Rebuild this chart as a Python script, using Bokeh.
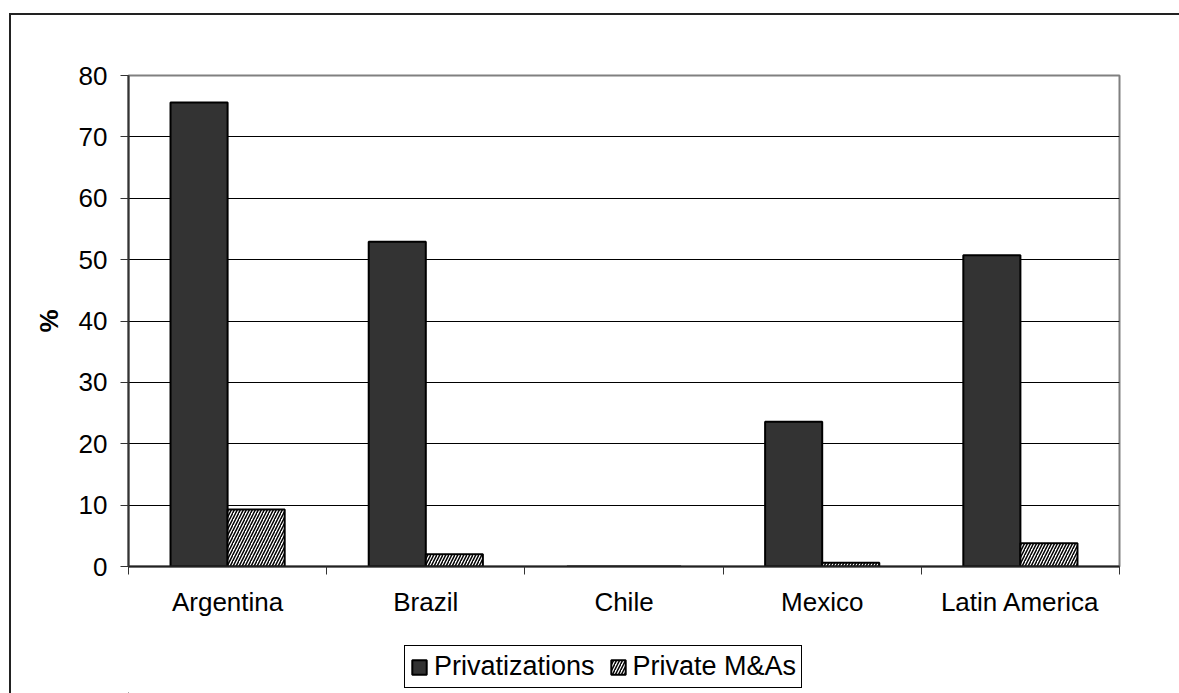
from bokeh.plotting import figure
from bokeh.models import (Range1d, LinearAxis, FixedTicker,
                          Legend, LegendItem, ColumnDataSource)
from bokeh.transform import dodge
from bokeh.layouts import column
from bokeh.embed import file_html
from bokeh.resources import INLINE

categories = ["Argentina", "Brazil", "Chile", "Mexico", "Latin America"]
privatizations = [75.6, 52.9, 0.0, 23.6, 50.7]
private_mas = [9.3, 2.0, 0.0, 0.6, 3.8]
y_ticks = [0, 10, 20, 30, 40, 50, 60, 70, 80]
series_labels = ["Privatizations", "Private M&As"]

FONT = "Liberation Sans"
FS = "26px"

PRIV_STYLE = dict(fill_color="#333333", line_color="black", line_width=2)
MAS_STYLE = dict(fill_color="white", line_color="black", line_width=2,
                 hatch_pattern="/", hatch_color="black", hatch_scale=6, hatch_weight=1.5)

n = len(categories)
centers = [i + 0.5 for i in range(n)]
src = ColumnDataSource(dict(x=centers, cat=categories, priv=privatizations, mas=private_mas))

p = figure(width=1168, height=625,
           x_range=Range1d(0, n),
           y_range=Range1d(0, 80),
           x_axis_location=None, y_axis_location="left",
           output_backend="svg", toolbar_location=None,
           min_border_left=117, min_border_right=60,
           min_border_top=60, min_border_bottom=74)

p.outline_line_color = "#808080"
p.outline_line_width = 2
p.xgrid.grid_line_color = None
p.ygrid.grid_line_color = "black"
p.ygrid.grid_line_width = 1
p.ygrid.ticker = FixedTicker(ticks=y_ticks)

yax = p.yaxis[0]
yax.ticker = FixedTicker(ticks=y_ticks)
yax.axis_line_color = "#333333"
yax.axis_line_width = 2
yax.major_tick_out = 8
yax.major_tick_in = 0
yax.major_tick_line_color = "#333333"
yax.minor_tick_line_color = None
yax.major_label_text_font = FONT
yax.major_label_text_font_size = FS
yax.major_label_text_color = "black"
yax.major_label_standoff = 13
yax.axis_label = "%"
yax.axis_label_text_font = FONT
yax.axis_label_text_font_size = FS
yax.axis_label_text_font_style = "bold"
yax.axis_label_text_color = "black"
yax.axis_label_standoff = 12

# boundary ticks axis (no labels)
bounds = list(range(n + 1))
bax = LinearAxis(ticker=FixedTicker(ticks=bounds),
                 major_label_overrides={b: "" for b in bounds})
bax.axis_line_color = "#222222"
bax.axis_line_width = 2
bax.major_tick_out = 8
bax.major_tick_in = 0
bax.major_tick_line_color = "#333333"
bax.minor_tick_line_color = None
bax.major_label_text_font_size = "1px"
bax.major_label_standoff = 0
p.add_layout(bax, "below")

# category labels axis
cax = LinearAxis(ticker=FixedTicker(ticks=centers),
                 major_label_overrides={c: lab for c, lab in zip(centers, categories)})
cax.axis_line_color = None
cax.major_tick_line_color = None
cax.minor_tick_line_color = None
cax.major_tick_out = 0
cax.major_tick_in = 0
cax.major_label_text_font = FONT
cax.major_label_text_font_size = FS
cax.major_label_text_color = "black"
cax.major_label_standoff = 12
p.add_layout(cax, "below")

p.vbar(x=dodge("x", -0.144), top="priv", width=0.288, source=src, **PRIV_STYLE)
p.vbar(x=dodge("x", 0.144), top="mas", width=0.288, source=src, **MAS_STYLE)

# legend strip (separate figure so the legend is not clipped by the main frame);
# its proxy bars sit far off the canvas and only feed the legend swatches
lf = figure(width=1168, height=53, x_range=Range1d(0, 1), y_range=Range1d(0, 1),
            x_axis_location=None, y_axis_location=None,
            output_backend="svg", toolbar_location=None,
            min_border_left=117, min_border_right=60,
            min_border_top=0, min_border_bottom=0)
lf.outline_line_color = None
lf.grid.visible = False
proxy = ColumnDataSource(dict(x=[-1000], top=[-1000]))
l1 = lf.vbar(x="x", top="top", bottom=-1001, width=0.1, source=proxy, **PRIV_STYLE)
l2 = lf.vbar(x="x", top="top", bottom=-1001, width=0.1, source=proxy, **MAS_STYLE)

legend = Legend(items=[LegendItem(label=series_labels[0], renderers=[l1]),
                       LegendItem(label=series_labels[1], renderers=[l2])],
                orientation="horizontal", location=(276, 5),
                border_line_color="black", border_line_width=1, border_line_alpha=1,
                background_fill_color="white", background_fill_alpha=1,
                label_text_font=FONT, label_text_font_size="27px", label_text_color="black",
                glyph_width=18, glyph_height=18, label_standoff=6,
                spacing=14, padding=5, margin=0)
lf.add_layout(legend, "center")

layout = column(p, lf, spacing=0, margin=(13, 0, 0, 9),
                styles={"border-top": "2px solid #222222", "border-left": "2px solid #222222"})

open("out.html", "w").write(file_html(layout, INLINE))
